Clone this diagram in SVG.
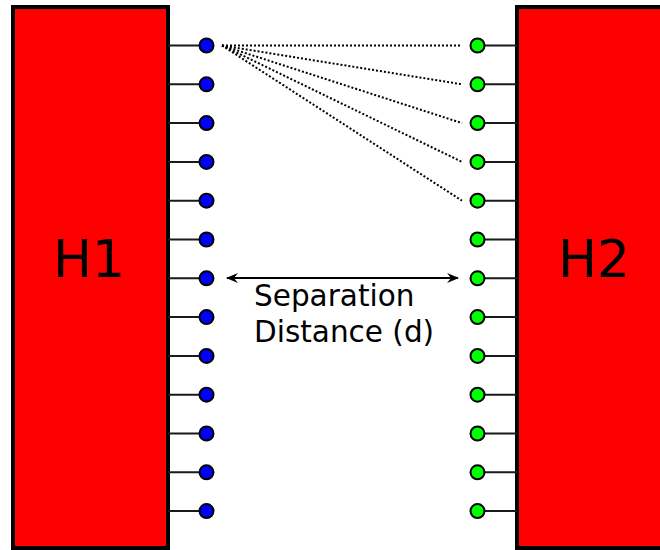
<svg xmlns="http://www.w3.org/2000/svg" width="660" height="550" viewBox="0 0 660 550">
<defs>
<style>
.host{fill:#ff0000;stroke:#000;stroke-width:4}
.stem{stroke:#1a1a1a;stroke-width:2}
.b{fill:#0000ff;stroke:#000;stroke-width:2}
.g{fill:#00ff00;stroke:#000;stroke-width:2}
.dot{stroke:#000;stroke-width:2;stroke-dasharray:2 2;fill:none}
.lbl{font-family:"DejaVu Sans",sans-serif;fill:#000}
</style>
<marker id="ah" viewBox="0 0 12 10" refX="11" refY="5" markerWidth="12" markerHeight="10" markerUnits="userSpaceOnUse" orient="auto-start-reverse">
<path d="M0,0 L12,5 L0,10 L4,5 Z" fill="#000"/>
</marker>
</defs>
<rect width="660" height="550" fill="#fff"/>
<g id="H1">
<rect class="host" x="13" y="7" width="155" height="541"/>
<text class="lbl" x="89" y="277" font-size="52" text-anchor="middle">H1</text>
</g>
<g id="H2">
<rect class="host" x="517" y="7" width="160" height="541"/>
<text class="lbl" x="594" y="277" font-size="52" text-anchor="middle">H2</text>
</g>
<g id="connectors">
<line class="dot" x1="222" y1="45.5" x2="462" y2="45.5"/>
<line class="dot" x1="222" y1="45.5" x2="462" y2="84.3"/>
<line class="dot" x1="222" y1="45.5" x2="462" y2="123.1"/>
<line class="dot" x1="222" y1="45.5" x2="462" y2="161.9"/>
<line class="dot" x1="222" y1="45.5" x2="462" y2="200.7"/>
<line x1="227" y1="278" x2="458" y2="278" stroke="#000" stroke-width="2" marker-start="url(#ah)" marker-end="url(#ah)"/>
</g>
<g id="blue">
<path class="stem" d="M168 45.5H199M168 84.3H199M168 123.1H199M168 161.9H199M168 200.7H199M168 239.5H199M168 278.3H199M168 317.1H199M168 355.9H199M168 394.7H199M168 433.5H199M168 472.3H199M168 511.1H199"/>
<circle class="b" cx="206.5" cy="45.5" r="7"/>
<circle class="b" cx="206.5" cy="84.3" r="7"/>
<circle class="b" cx="206.5" cy="123.1" r="7"/>
<circle class="b" cx="206.5" cy="161.9" r="7"/>
<circle class="b" cx="206.5" cy="200.7" r="7"/>
<circle class="b" cx="206.5" cy="239.5" r="7"/>
<circle class="b" cx="206.5" cy="278.3" r="7"/>
<circle class="b" cx="206.5" cy="317.1" r="7"/>
<circle class="b" cx="206.5" cy="355.9" r="7"/>
<circle class="b" cx="206.5" cy="394.7" r="7"/>
<circle class="b" cx="206.5" cy="433.5" r="7"/>
<circle class="b" cx="206.5" cy="472.3" r="7"/>
<circle class="b" cx="206.5" cy="511.1" r="7"/>
</g>
<g id="green">
<path class="stem" d="M485 45.5H517M485 84.3H517M485 123.1H517M485 161.9H517M485 200.7H517M485 239.5H517M485 278.3H517M485 317.1H517M485 355.9H517M485 394.7H517M485 433.5H517M485 472.3H517M485 511.1H517"/>
<circle class="g" cx="477.5" cy="45.5" r="7"/>
<circle class="g" cx="477.5" cy="84.3" r="7"/>
<circle class="g" cx="477.5" cy="123.1" r="7"/>
<circle class="g" cx="477.5" cy="161.9" r="7"/>
<circle class="g" cx="477.5" cy="200.7" r="7"/>
<circle class="g" cx="477.5" cy="239.5" r="7"/>
<circle class="g" cx="477.5" cy="278.3" r="7"/>
<circle class="g" cx="477.5" cy="317.1" r="7"/>
<circle class="g" cx="477.5" cy="355.9" r="7"/>
<circle class="g" cx="477.5" cy="394.7" r="7"/>
<circle class="g" cx="477.5" cy="433.5" r="7"/>
<circle class="g" cx="477.5" cy="472.3" r="7"/>
<circle class="g" cx="477.5" cy="511.1" r="7"/>
</g>
<g id="label">
<text class="lbl" x="254" y="306" font-size="29.5">Separation</text>
<text class="lbl" x="254" y="342" font-size="29.5">Distance (d)</text>
</g>
</svg>
